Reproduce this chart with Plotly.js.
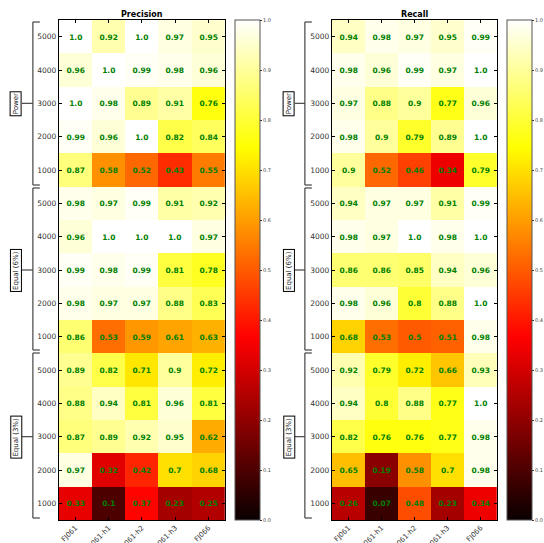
<!DOCTYPE html>
<html><head><meta charset="utf-8">
<script src="https://cdn.plot.ly/plotly-3.0.1.min.js"></script>
<style>html,body{margin:0;padding:0;background:#fff}</style>
</head><body><div id="chart" style="width:544px;height:543px"></div>
<script>
var columns = ["FJ061","FJ061-h1","FJ061-h2","FJ061-h3","FJ066"];
var rowLabels = ["5000","4000","3000","2000","1000"];
var groups = ["Power","Equal (6%)","Equal (3%)"];

var precisionPower = [
 [1.0,0.92,1.0,0.97,0.95],
 [0.96,1.0,0.99,0.98,0.96],
 [1.0,0.98,0.89,0.91,0.76],
 [0.99,0.96,1.0,0.82,0.84],
 [0.87,0.58,0.52,0.43,0.55]];
var precisionEqual6 = [
 [0.98,0.97,0.99,0.91,0.92],
 [0.96,1.0,1.0,1.0,0.97],
 [0.99,0.98,0.99,0.81,0.78],
 [0.98,0.97,0.97,0.88,0.83],
 [0.86,0.53,0.59,0.61,0.63]];
var precisionEqual3 = [
 [0.89,0.82,0.71,0.9,0.72],
 [0.88,0.94,0.81,0.96,0.81],
 [0.87,0.89,0.92,0.95,0.62],
 [0.97,0.32,0.42,0.7,0.68],
 [0.33,0.1,0.37,0.23,0.25]];
var recallPower = [
 [0.94,0.98,0.97,0.95,0.99],
 [0.98,0.96,0.99,0.97,1.0],
 [0.97,0.88,0.9,0.77,0.96],
 [0.98,0.9,0.79,0.89,1.0],
 [0.9,0.52,0.46,0.34,0.79]];
var recallEqual6 = [
 [0.94,0.97,0.97,0.91,0.99],
 [0.98,0.97,1.0,0.98,1.0],
 [0.86,0.86,0.85,0.94,0.96],
 [0.98,0.96,0.8,0.88,1.0],
 [0.68,0.53,0.5,0.51,0.98]];
var recallEqual3 = [
 [0.92,0.79,0.72,0.66,0.93],
 [0.94,0.8,0.88,0.77,1.0],
 [0.82,0.76,0.76,0.77,0.98],
 [0.65,0.19,0.58,0.7,0.98],
 [0.26,0.07,0.48,0.23,0.34]];
var colorbarTicks = [0,0.1,0.2,0.3,0.4,0.5,0.6,0.7,0.8,0.9,1.0];

var hot = [[0,'rgb(10,0,0)'],[0.365,'rgb(255,0,0)'],[0.746,'rgb(255,255,0)'],[1,'rgb(255,255,255)']];
function fmt(v){ return Number.isInteger(v) ? v.toFixed(1) : String(v); }

var precZ = precisionPower.concat(precisionEqual6, precisionEqual3);
var recZ = recallPower.concat(recallEqual6, recallEqual3);
var yIdx = precZ.map(function(_,i){return i;});
var yText = [].concat(rowLabels,rowLabels,rowLabels);
var xIdx = columns.map(function(_,i){return i;});

function hm(z, xa, ya, ca){
  return {type:'heatmap', z:z, x:xIdx, y:yIdx, xaxis:xa, yaxis:ya, coloraxis:ca,
    text:z.map(function(r){return r.map(fmt);}), texttemplate:'%{text}',
    textfont:{family:'DejaVu Sans', size:7.5, color:'green', weight:'bold'},
    hoverinfo:'skip'};
}

var W=544, H=543;
function px(x){return x/W;} function py(y){return 1-y/H;}
var plotTop=20, plotBot=520, rowH=(plotBot-plotTop)/15;

function xaxisDef(l,r){
  return {domain:[px(l),px(r)], range:[-0.5,4.5], tickvals:xIdx, ticktext:columns, tickangle:-45,
    tickfont:{family:'DejaVu Sans', size:7, color:'#333'}, ticks:'inside', ticklen:3, tickcolor:'#000',
    showline:true, mirror:'ticks', linecolor:'#000', linewidth:1, showgrid:false, zeroline:false, automargin:false};
}
function yaxisDef(xa){
  return {domain:[py(plotBot),py(plotTop)], range:[14.5,-0.5], tickvals:yIdx, ticktext:yText,
    tickfont:{family:'DejaVu Sans', size:7.5, color:'#333'}, ticks:'inside', ticklen:3, tickcolor:'#000',
    showline:true, mirror:'ticks', linecolor:'#000', linewidth:1, showgrid:false, zeroline:false, automargin:false, anchor:xa};
}
function cbar(x){
  return {colorscale:hot, cmin:0, cmax:1, colorbar:{x:px(x), xanchor:'left', xpad:0, ypad:0,
    y:py((plotTop+plotBot)/2), yanchor:'middle', len:(plotBot-plotTop)/H, lenmode:'fraction', thickness:25, thicknessmode:'pixels',
    outlinewidth:1, outlinecolor:'#555', tickvals:colorbarTicks, ticktext:colorbarTicks.map(function(v){return v.toFixed(1);}),
    ticks:'outside', ticklen:2, tickcolor:'#333', tickfont:{family:'DejaVu Sans', size:5, color:'#444'}}};
}

var shapes=[], annotations=[];
function brackets(xLine, xLabel){
  var segs=[[22,185],[188,350],[353,518]];
  segs.forEach(function(s,i){
    var ln={type:'line', xref:'paper', yref:'paper', line:{color:'#444', width:1.2}};
    shapes.push(Object.assign({x0:px(xLine),x1:px(xLine),y0:py(s[0]),y1:py(s[1])},ln));
    shapes.push(Object.assign({x0:px(xLine),x1:px(xLine+7),y0:py(s[0]),y1:py(s[0])},ln));
    shapes.push(Object.assign({x0:px(xLine),x1:px(xLine+7),y0:py(s[1]),y1:py(s[1])},ln));
    var cy=plotTop+(i*5+2.5)*rowH;
    shapes.push(Object.assign({x0:px(xLabel+6),x1:px(xLine),y0:py(cy),y1:py(cy)},ln));
    annotations.push({xref:'paper', yref:'paper', x:px(xLabel), y:py(cy), text:groups[i], textangle:-90,
      showarrow:false, font:{family:'DejaVu Sans', size:7, color:'#222'}, bordercolor:'#000', borderwidth:1,
      borderpad:1, bgcolor:'#fff', xanchor:'center', yanchor:'middle'});
  });
}
brackets(33, 16);
brackets(306, 290);
annotations.push({xref:'paper', yref:'paper', x:px(142.5), y:py(14), text:'<b>Precision</b>', showarrow:false,
  font:{family:'DejaVu Sans', size:8, color:'#000'}, xanchor:'center', yanchor:'middle'});
annotations.push({xref:'paper', yref:'paper', x:px(416), y:py(14), text:'<b>Recall</b>', showarrow:false,
  font:{family:'DejaVu Sans', size:8, color:'#000'}, xanchor:'center', yanchor:'middle'});

var layout = {width:W, height:H, margin:{l:0,r:0,t:0,b:0}, paper_bgcolor:'#fff', plot_bgcolor:'#fff', showlegend:false,
  xaxis:xaxisDef(59,226), yaxis:yaxisDef('x'),
  xaxis2:Object.assign(xaxisDef(333,499),{anchor:'y2'}), yaxis2:yaxisDef('x2'),
  coloraxis:cbar(236), coloraxis2:cbar(509),
  shapes:shapes, annotations:annotations};
layout.xaxis.anchor='y';

Plotly.newPlot('chart',[hm(precZ,'x','y','coloraxis'),hm(recZ,'x2','y2','coloraxis2')],layout,{staticPlot:true});
</script></body></html>
